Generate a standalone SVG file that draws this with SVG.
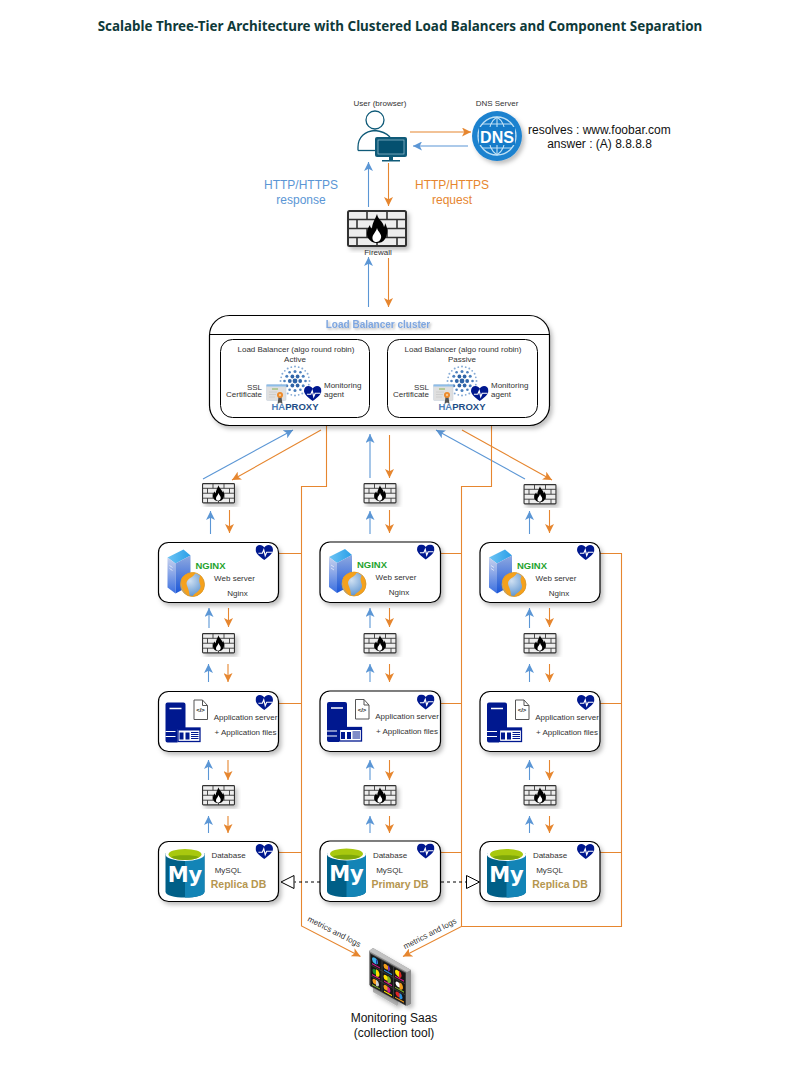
<svg xmlns="http://www.w3.org/2000/svg" xmlns:xlink="http://www.w3.org/1999/xlink" width="801" height="1071" viewBox="0 0 801 1071">
<style>
text{font-family:"Liberation Sans",Arial,sans-serif;fill:#333}
.m{text-anchor:middle}
.e{text-anchor:end}
.s8{font-size:8px}
.s12{font-size:12px}
.box{fill:#fff;stroke:#000;stroke-width:1.2}
.inner{fill:#fff;stroke:#000;stroke-width:1}
.b{fill:none;stroke:#5b96d5;stroke-width:1.1;marker-end:url(#ab)}
.o{fill:none;stroke:#e6862f;stroke-width:1.1;marker-end:url(#ao)}
.ol{fill:none;stroke:#e6862f;stroke-width:1.1}
.dash{fill:none;stroke:#000;stroke-width:1;stroke-dasharray:3 3;marker-end:url(#tri)}
.role{font-size:10.5px;font-weight:bold;fill:#b5964f}
.ha{font-size:9.5px;font-weight:bold;fill:#1d4d86}
.my{font-family:"DejaVu Sans",sans-serif;font-size:21px;font-weight:bold;fill:#fff}
.ngx{font-size:9px;font-weight:bold;fill:#1fa32e}
.code{font-size:6px;font-weight:bold;fill:#222}
.sh{filter:url(#shadow)}
</style>
<defs>
<filter id="shadow" x="-15%" y="-15%" width="135%" height="135%"><feDropShadow dx="2.5" dy="3" stdDeviation="2" flood-color="#000" flood-opacity=".25"/></filter>
<filter id="tshadow" x="-10%" y="-40%" width="120%" height="190%"><feDropShadow dx="1.5" dy="1.5" stdDeviation="1.2" flood-color="#000" flood-opacity=".3"/></filter>
<marker id="ab" viewBox="0 0 10 10" refX="10" refY="5" markerWidth="9" markerHeight="9" markerUnits="userSpaceOnUse" orient="auto"><path d="M10 5L0 0L2.5 5L0 10Z" fill="#5b96d5"/></marker>
<marker id="ao" viewBox="0 0 10 10" refX="10" refY="5" markerWidth="9" markerHeight="9" markerUnits="userSpaceOnUse" orient="auto"><path d="M10 5L0 0L2.5 5L0 10Z" fill="#e6862f"/></marker>
<marker id="tri" viewBox="0 0 14 14" refX="0" refY="7" markerWidth="14" markerHeight="14" markerUnits="userSpaceOnUse" orient="auto"><path d="M0.5 .5L13.5 7L0.5 13.5Z" fill="#fff" stroke="#000" stroke-width="1"/></marker>
<linearGradient id="tw" x1="0" y1="0" x2="0" y2="1"><stop offset="0" stop-color="#8fa9e0"/><stop offset="1" stop-color="#1a56d8"/></linearGradient>
<linearGradient id="tw2" x1="0" y1="0" x2="0" y2="1"><stop offset="0" stop-color="#c8d2ee"/><stop offset="1" stop-color="#3a6fe0"/></linearGradient>
<linearGradient id="twt" x1="0" y1="0" x2="1" y2="0"><stop offset="0" stop-color="#6cc4f4"/><stop offset="1" stop-color="#2a9fe8"/></linearGradient>
<radialGradient id="gl" cx=".4" cy=".35" r=".8"><stop offset="0" stop-color="#cfe0f2"/><stop offset=".7" stop-color="#6fa0d6"/><stop offset="1" stop-color="#3a70b0"/></radialGradient>
<symbol id="fw" viewBox="0 0 60 37" overflow="visible">
<rect x="1" y="1" width="58" height="35" rx="1.5" fill="#ededed" stroke="#333" stroke-width="2"/>
<path d="M1 9.500H59M1 18.500H59M1 27.500H59M20 1V9.500M40 1V9.500M10 9.500V18.500M30 9.500V18.500M50 9.500V18.500M20 18.500V27.500M40 18.500V27.500M10 27.500V36M30 27.500V36M50 27.500V36" fill="none" stroke="#333" stroke-width="1.600"/>
<path d="M30 4C31 10 36 11 37 17C38 15 38 14 38 13C41 18 41 24 38 29C36 32 33 33 30 33C26 33 23 31 21 28C19 24 20 19 23 15C23 17 24 18 25 19C25 13 28 10 30 4Z" fill="#000"/>
<path d="M30 18C31 22 35 24 34 28C33 31 31 32 29.500 32C27 32 25 30 25.500 27C26 24 29 22 30 18Z" fill="#fff"/>
</symbol>
<symbol id="heart" viewBox="0 0 18 16"><path d="M9 15.500C3 11 0 8 0 4.800C0 2 2 0 4.600 0C6.400 0 8 1 9 2.600C10 1 11.600 0 13.400 0C16 0 18 2 18 4.800C18 8 15 11 9 15.500Z" fill="#00188f"/><path d="M3 8.500H7L8.500 5L10 11L11.500 7.500H17" fill="none" stroke="#fff" stroke-width="1.200"/></symbol>
<symbol id="webicon" viewBox="0 0 50 56" overflow="visible">
<path d="M9 15L25 7L32 13L17 21Z" fill="url(#twt)"/>
<path d="M9 15L17 21V51L9 45Z" fill="url(#tw2)"/>
<path d="M17 21L32 13V43L17 51Z" fill="url(#tw)"/>
<path d="M11 23L14 25M11 26L14 28" stroke="#fff" stroke-width=".6"/>
<circle cx="34" cy="42" r="12" fill="url(#gl)"/>
<path d="M23 36C26 31 31 30 37 30C36 34 31 35 29 38C26 42 31 45 31 53.500C26 52 21 44 23 36ZM42 33C46 37 47 44 44 49C41 52 37 54 34 54C36 50 42 49 42 44C42 41 39 38 42 33Z" fill="#f5a11c"/>
<circle cx="34" cy="42" r="12" fill="none" stroke="#ef9a12" stroke-width=".8"/>
</symbol>
<symbol id="appicon" viewBox="0 0 50 56" overflow="visible">
<path d="M9 11H25Q27 11 27 13V38H19V51H9Q7 51 7 49V13Q7 11 9 11Z" fill="#00188f"/>
<path d="M11 17H23" stroke="#fff" stroke-width="1.500"/>
<path d="M7 40H17M7 45H17" stroke="#fff" stroke-width="1.200"/>
<rect x="19.500" y="36.500" width="22" height="13.500" fill="#fff" stroke="#00188f" stroke-width="1.300"/>
<rect x="19.500" y="36.500" width="22" height="2.500" fill="#00188f"/>
<path d="M21 41H25V48H21ZM27 41H31V48H27Z" fill="#00188f"/>
<path d="M32.500 41H40M32.500 43H40M32.500 45H40M32.500 47H40" stroke="#00188f" stroke-width="1"/>
<path d="M35.500 8.500H44L49 14V28H35.500Z" fill="#fff" stroke="#555" stroke-width="1"/>
<path d="M44 8.500V14H49" fill="none" stroke="#555" stroke-width="1"/>
</symbol>
<symbol id="dbicon" viewBox="0 0 50 56" overflow="visible">
<path d="M7 12V50C7 54 16 56 26.500 56C37 56 46 54 46 50V12Z" fill="#005f87"/>
<path d="M26.500 14V56C37 56 46 54 46 50V12Z" fill="#1384b6"/>
<ellipse cx="26.500" cy="13" rx="19.500" ry="6.500" fill="#fff"/>
<ellipse cx="26.500" cy="13" rx="16.500" ry="5.500" fill="#a8c80f"/>
<path d="M12.500 15.500C16 13 37 13 40.500 15.500C36 19.500 17 19.500 12.500 15.500Z" fill="#7ea70a"/>
</symbol>
<symbol id="ha" viewBox="0 0 36 36" overflow="visible">
<g fill="#2e64a8"><circle cx="18" cy="18" r="2.400"/><circle cx="12.800" cy="18" r="1.900"/><circle cx="23.200" cy="18" r="1.900"/><circle cx="15.400" cy="13.500" r="1.900"/><circle cx="20.600" cy="13.500" r="1.900"/><circle cx="15.400" cy="22.500" r="1.900"/><circle cx="20.600" cy="22.500" r="1.900"/></g>
<g fill="#4c80bd"><circle cx="18" cy="8.500" r="1.500"/><circle cx="18" cy="27.500" r="1.500"/><circle cx="9.800" cy="13.200" r="1.500"/><circle cx="26.200" cy="13.200" r="1.500"/><circle cx="9.800" cy="22.800" r="1.500"/><circle cx="26.200" cy="22.800" r="1.500"/><circle cx="12.600" cy="9.300" r="1.300"/><circle cx="23.400" cy="9.300" r="1.300"/><circle cx="12.600" cy="26.700" r="1.300"/><circle cx="23.400" cy="26.700" r="1.300"/><circle cx="7.500" cy="18" r="1.300"/><circle cx="28.500" cy="18" r="1.300"/></g>
<g fill="#86abd6"><circle cx="18" cy="3.500" r="1"/><circle cx="18" cy="32.500" r="1"/><circle cx="10.700" cy="5.500" r="1"/><circle cx="25.300" cy="5.500" r="1"/><circle cx="10.700" cy="30.500" r="1"/><circle cx="25.300" cy="30.500" r="1"/><circle cx="5.400" cy="10.700" r="1"/><circle cx="30.600" cy="10.700" r="1"/><circle cx="5.400" cy="25.300" r="1"/><circle cx="30.600" cy="25.300" r="1"/><circle cx="3.500" cy="18" r="1"/><circle cx="32.500" cy="18" r="1"/><circle cx="14.300" cy="4.200" r=".9"/><circle cx="21.700" cy="4.200" r=".9"/><circle cx="7.800" cy="7.800" r=".9"/><circle cx="28.200" cy="7.800" r=".9"/><circle cx="4.200" cy="14.300" r=".9"/><circle cx="31.800" cy="14.300" r=".9"/><circle cx="4.200" cy="21.700" r=".9"/><circle cx="31.800" cy="21.700" r=".9"/><circle cx="7.800" cy="28.200" r=".9"/><circle cx="28.200" cy="28.200" r=".9"/><circle cx="14.300" cy="31.800" r=".9"/><circle cx="21.700" cy="31.800" r=".9"/></g>
</symbol>
<symbol id="cert" viewBox="0 0 22 20" overflow="visible">
<rect x=".5" y=".5" width="19.500" height="16" rx="1" fill="#dfdfdf" stroke="#c9d3df" stroke-width=".6"/>
<rect x=".5" y=".5" width="19.500" height="2" fill="#8dbde9"/>
<path d="M3 8H11M3 10.500H10M3 13H9" stroke="#c9c9c9" stroke-width=".8"/>
<path d="M6 5H12" stroke="#9dbb74" stroke-width="1.300"/>
<path d="M12.500 13L11.500 20L14 18.500L16.500 20L15.500 13Z" fill="#555"/>
<circle cx="14" cy="11" r="3" fill="#ee8a2a"/><circle cx="14" cy="11" r="1.200" fill="#f5c992"/>
</symbol>
<g id="tile"><path d="M1 1H10V10H1Z" fill="#1b1b1b"/><path d="M1 9H10" stroke="currentColor" stroke-width="1.500"/></g>
</defs>
<rect width="801" height="1071" fill="#fff"/>

<text id="title" x="400" y="30.500" class="m" style="font-family:'Noto Sans','Open Sans',sans-serif;font-weight:700;font-size:13.400px;fill:#0f3a3a">Scalable Three-Tier Architecture with Clustered Load Balancers and Component Separation</text>

<g id="connectors">
<path class="o" d="M410 132H471"/><path class="b" d="M468 146H413"/>
<path class="b" d="M368.500 207V162"/><path class="o" d="M388.500 163V206"/>
<path class="b" d="M368.500 307V257"/><path class="o" d="M388.500 258V307"/>
<path class="b" d="M203 479L293 430"/><path class="o" d="M321 430L232 480"/>
<path class="b" d="M370 478V434"/><path class="o" d="M389.500 435V478"/>
<path class="b" d="M525 479L436 430"/><path class="o" d="M462 430L552 480"/>
<path class="b" d="M210.500 534V511"/><path class="o" d="M229.500 510V533"/>
<path class="b" d="M370 534V511"/><path class="o" d="M389.500 510V533"/>
<path class="b" d="M529.500 534V511"/><path class="o" d="M549.500 510V533"/>
<path class="b" d="M209 628V608"/><path class="o" d="M228.500 608V627"/>
<path class="b" d="M370 628V608"/><path class="o" d="M389.500 608V627"/>
<path class="b" d="M529.500 628V608"/><path class="o" d="M549.500 608V627"/>
<path class="b" d="M208.500 682V664"/><path class="o" d="M228 664V682"/>
<path class="b" d="M370 682V664"/><path class="o" d="M389.500 664V682"/>
<path class="b" d="M529.500 682V664"/><path class="o" d="M549.500 664V682"/>
<path class="b" d="M208.500 780V760"/><path class="o" d="M228 760V780"/>
<path class="b" d="M370 780V760"/><path class="o" d="M389.500 760V780"/>
<path class="b" d="M529.500 780V760"/><path class="o" d="M549.500 760V780"/>
<path class="b" d="M208.500 833V816"/><path class="o" d="M228 816V833"/>
<path class="b" d="M370 833V816"/><path class="o" d="M389.500 816V833"/>
<path class="b" d="M529.500 833V816"/><path class="o" d="M549.500 816V833"/>
<path class="o" d="M326.500 397V486.500H301.500V926L360.500 956.500"/>
<path class="ol" d="M274 553.500H301.500M274 703.500H301.500M274 852.500H301.500"/>
<path class="o" d="M491.500 397V486.500H461.500V926.500L403 956.500"/>
<path class="ol" d="M435 553.500H461.500M435 703.500H461.500M435 852.500H461.500"/>
<path class="ol" d="M596 553.500H621.500V926.500H461.500M596 703.500H621.500M596 852.500H621.500"/>
<path class="dash" d="M320 882H294.500"/>
<path class="dash" d="M441 882H466"/>
</g>

<g id="user"><text x="380" y="106" class="m s8">User (browser)</text>
<circle cx="375" cy="120" r="9" fill="#fff" stroke="#0f5a78" stroke-width="1.300"/>
<path d="M358 150.500V147C358 137 365 131 375 130.500C381 131 386 133 390 137" fill="none" stroke="#0f5a78" stroke-width="1.300"/>
<path d="M358 150.500H376" stroke="#0f5a78" stroke-width="1.300"/>
<rect x="375" y="137" width="32" height="20" rx="2" fill="#0f5a78"/><rect x="378" y="140" width="26" height="14" fill="#04506f" stroke="#9cc3d5" stroke-width=".7"/>
<path d="M389 157H393V160H400V161.500H382V160H389Z" fill="#0f5a78"/></g>

<g id="dns"><text x="497" y="106" class="m s8">DNS Server</text>
<circle cx="497" cy="136" r="25" fill="#1e82cf" class="sh"/>
<circle cx="497" cy="136" r="19" fill="#157bc9" stroke="#bfe0f5" stroke-width="1.300"/>
<path d="M478 136H516M482 124H512M482 148H512M497 117V155M497 117C486 124 486 148 497 155M497 117C508 124 508 148 497 155" fill="none" stroke="#bfe0f5" stroke-width="1.100"/>
<rect x="479" y="127" width="36" height="18" fill="#157bc9"/>
<text x="497" y="142.500" class="m" style="font-size:16px;font-weight:bold;fill:#fff">DNS</text></g>

<text x="528" y="133.500" class="s12" style="fill:#111">resolves : www.foobar.com</text>
<text x="599.500" y="148" class="m s12" style="fill:#111">answer : (A) 8.8.8.8</text>
<text x="301" y="189" class="m s12" style="fill:#5b96d5">HTTP/HTTPS</text>
<text x="301" y="203.500" class="m s12" style="fill:#5b96d5">response</text>
<text x="452" y="189" class="m s12" style="fill:#e6862f">HTTP/HTTPS</text>
<text x="452" y="203.500" class="m s12" style="fill:#e6862f">request</text>

<g id="firewall-top"><use href="#fw" x="347" y="210" width="60" height="37" class="sh"/><text x="378" y="255" class="m s8">Firewall</text></g>

<g id="lb-cluster">
<rect class="box sh" x="209.500" y="315.500" width="340" height="110" rx="20"/>
<path d="M209.500 334.500H549.500" stroke="#000" stroke-width="1"/>
<text x="378" y="328" class="m" style="font-size:10px;font-weight:bold;fill:#7ea6e0;filter:url(#tshadow)">Load Balancer cluster</text>
</g>
<g id="lb-active">
<rect class="inner" x="220.500" y="339.500" width="149" height="78" rx="12"/>
<text x="296" y="352" class="m s8">Load Balancer (algo round robin)</text>
<text x="295" y="362" class="m s8">Active</text>
<use href="#ha" x="277" y="363" width="36" height="36"/>
<use href="#cert" x="266" y="384" width="22" height="20"/>
<use href="#heart" x="304" y="386" width="17.500" height="15.500"/>
<text x="262" y="390" class="e s8">SSL</text><text x="262" y="397" class="e s8">Certificate</text>
<text x="324" y="388" class="s8">Monitoring</text><text x="324" y="396.500" class="s8">agent</text>
<text x="295" y="410" class="m ha"><tspan style="fill:#4b7db8">HA</tspan>PROXY</text>
</g>
<g id="lb-passive">
<rect class="inner" x="387.500" y="339.500" width="150" height="78" rx="12"/>
<text x="463" y="352" class="m s8">Load Balancer (algo round robin)</text>
<text x="462" y="362" class="m s8">Passive</text>
<use href="#ha" x="444" y="363" width="36" height="36"/>
<use href="#cert" x="433" y="384" width="22" height="20"/>
<use href="#heart" x="471" y="386" width="17.500" height="15.500"/>
<text x="429" y="390" class="e s8">SSL</text><text x="429" y="397" class="e s8">Certificate</text>
<text x="491" y="388" class="s8">Monitoring</text><text x="491" y="396.500" class="s8">agent</text>
<text x="462" y="410" class="m ha"><tspan style="fill:#4b7db8">HA</tspan>PROXY</text>
</g>

<g id="firewalls">
<use href="#fw" x="202" y="483" width="33" height="20.500" class="sh"/><use href="#fw" x="363.500" y="483" width="33" height="20.500" class="sh"/><use href="#fw" x="523.500" y="484" width="33" height="20.500" class="sh"/>
<use href="#fw" x="202" y="633" width="33" height="20.500" class="sh"/><use href="#fw" x="363.500" y="633" width="33" height="20.500" class="sh"/><use href="#fw" x="523.500" y="633" width="33" height="20.500" class="sh"/>
<use href="#fw" x="202" y="785" width="33" height="20.500" class="sh"/><use href="#fw" x="363.500" y="785" width="33" height="20.500" class="sh"/><use href="#fw" x="523.500" y="785" width="33" height="20.500" class="sh"/>
</g>

<g id="web-1" transform="translate(158.500 542.500)"><rect class="box sh" width="120" height="60" rx="10"/><use href="#webicon" width="50" height="56"/><text x="37" y="26" textLength="30" lengthAdjust="spacingAndGlyphs" class="ngx">NGINX</text><use href="#heart" x="97" y="2.500" width="17.500" height="15.500"/><text x="76" y="38" class="m s8">Web server</text><text x="79" y="53" class="m s8">Nginx</text></g>
<g id="web-2" transform="translate(320 542)"><rect class="box sh" width="120.500" height="60.500" rx="10"/><use href="#webicon" width="50" height="56"/><text x="37" y="26" textLength="30" lengthAdjust="spacingAndGlyphs" class="ngx">NGINX</text><use href="#heart" x="97" y="2.500" width="17.500" height="15.500"/><text x="76" y="38" class="m s8">Web server</text><text x="79" y="53" class="m s8">Nginx</text></g>
<g id="web-3" transform="translate(480 542.500)"><rect class="box sh" width="120" height="60" rx="10"/><use href="#webicon" width="50" height="56"/><text x="37" y="26" textLength="30" lengthAdjust="spacingAndGlyphs" class="ngx">NGINX</text><use href="#heart" x="97" y="2.500" width="17.500" height="15.500"/><text x="76" y="38" class="m s8">Web server</text><text x="79" y="53" class="m s8">Nginx</text></g>

<g id="app-1" transform="translate(158.500 691.500)"><rect class="box sh" width="120" height="60" rx="10"/><use href="#appicon" width="50" height="56"/><text x="42" y="20.500" class="m code">&lt;/&gt;</text><use href="#heart" x="97" y="3.500" width="17.500" height="15.500"/><text x="87" y="28" class="m s8">Application server</text><text x="87" y="43" class="m s8">+ Application files</text></g>
<g id="app-2" transform="translate(320 691)"><rect class="box sh" width="120.500" height="60.500" rx="10"/><use href="#appicon" width="50" height="56"/><text x="42" y="20.500" class="m code">&lt;/&gt;</text><use href="#heart" x="97" y="3.500" width="17.500" height="15.500"/><text x="87" y="28" class="m s8">Application server</text><text x="87" y="43" class="m s8">+ Application files</text></g>
<g id="app-3" transform="translate(480 691.500)"><rect class="box sh" width="120" height="60" rx="10"/><use href="#appicon" width="50" height="56"/><text x="42" y="20.500" class="m code">&lt;/&gt;</text><use href="#heart" x="97" y="3.500" width="17.500" height="15.500"/><text x="87" y="28" class="m s8">Application server</text><text x="87" y="43" class="m s8">+ Application files</text></g>

<g id="db-1" transform="translate(158.500 841.500)"><rect class="box sh" width="120" height="60" rx="10"/><use href="#dbicon" width="50" height="56"/><text x="26.500" y="40" class="m my">My</text><use href="#heart" x="97" y="2.500" width="17.500" height="15.500"/><text x="70" y="16.500" class="m s8">Database</text><text x="69.500" y="31.500" class="m s8">MySQL</text><text x="80" y="46.500" class="m role">Replica DB</text></g>
<g id="db-2" transform="translate(320 841)"><rect class="box sh" width="120.500" height="60.500" rx="10"/><use href="#dbicon" width="50" height="56"/><text x="26.500" y="40" class="m my">My</text><use href="#heart" x="97" y="2.500" width="17.500" height="15.500"/><text x="70" y="16.500" class="m s8">Database</text><text x="69.500" y="31.500" class="m s8">MySQL</text><text x="80" y="46.500" class="m role">Primary DB</text></g>
<g id="db-3" transform="translate(480 841.500)"><rect class="box sh" width="120" height="60" rx="10"/><use href="#dbicon" width="50" height="56"/><text x="26.500" y="40" class="m my">My</text><use href="#heart" x="97" y="2.500" width="17.500" height="15.500"/><text x="70" y="16.500" class="m s8">Database</text><text x="69.500" y="31.500" class="m s8">MySQL</text><text x="80" y="46.500" class="m role">Replica DB</text></g>

<g id="monitoring">
<text transform="translate(333 934) rotate(27)" class="m s8">metrics and logs</text>
<text transform="translate(431 936) rotate(-27)" class="m s8">metrics and logs</text>
<path d="M373 984L398 998V1005L397 1006L373 992Z" fill="#b5b5b5" class="sh"/>
<path d="M369 951L373 948L411 970V1004L407 1006L369 985Z" fill="#8c8c8c" class="sh"/>
<path d="M369 951L373 948L411 970L407 972Z" fill="#c2c2c2"/>
<g transform="matrix(1 .55 0 1 370 953)">
<rect width="36" height="33" fill="#3a3a3a"/>
<g fill="#161616"><rect x="1" y="1" width="10.500" height="10"/><rect x="12.500" y="1" width="10.500" height="10"/><rect x="24" y="1" width="11" height="10"/><rect x="1" y="12" width="10.500" height="10"/><rect x="12.500" y="12" width="10.500" height="10"/><rect x="24" y="12" width="11" height="10"/><rect x="1" y="23" width="10.500" height="9"/><rect x="12.500" y="23" width="10.500" height="9"/><rect x="24" y="23" width="11" height="9"/></g>
<circle cx="5" cy="5" r="3" fill="#3fb0e8"/><path d="M6 2.500A3.500 3.500 0 0 1 6 8Z" fill="#2233a8"/><path d="M2 9.500H10" stroke="#d6168f" stroke-width="1.200"/>
<circle cx="16" cy="5" r="2.500" fill="#f29b1a"/><path d="M18 2A3.500 3.500 0 0 1 18 8.500Z" fill="#6a2bb0"/><path d="M14 9.500H22" stroke="#2a8fe0" stroke-width="1.200"/>
<circle cx="28" cy="5" r="3" fill="#ffe000"/><path d="M29 1.500A4 4 0 0 1 29 9Z" fill="#e02525"/><path d="M25 9.500H34" stroke="#d6168f" stroke-width="1.200"/>
<circle cx="5" cy="16" r="2.500" fill="#1c8a2c"/><path d="M6 13A3.500 3.500 0 0 1 6 20Z" fill="#ffe000"/><path d="M2 20.500H10" stroke="#d6168f" stroke-width="1.200"/>
<circle cx="16" cy="16" r="2.500" fill="#ffe000"/><path d="M17.500 13A3.500 3.500 0 0 1 17.500 20Z" fill="#7db12b"/><path d="M14 20.500H22" stroke="#d6168f" stroke-width="1.200"/>
<circle cx="28" cy="16" r="2.500" fill="#fff"/><path d="M29.500 13A3.500 3.500 0 0 1 29.500 20Z" fill="#f29b1a"/><path d="M25 20.500H34" stroke="#7db12b" stroke-width="1.200"/>
<circle cx="5" cy="26" r="2.500" fill="#f29b1a"/><path d="M6 23.500A3 3 0 0 1 6 29.500Z" fill="#cfcfcf"/><path d="M2 30.500H10" stroke="#7db12b" stroke-width="1.200"/>
<circle cx="16" cy="26" r="2.500" fill="#f29b1a"/><path d="M17.500 23.500A3 3 0 0 1 17.500 29.500Z" fill="#d6168f"/><path d="M14 30.500H22" stroke="#ffe000" stroke-width="1.200"/>
<circle cx="28" cy="26" r="2.500" fill="#e02525"/><path d="M29.500 23.500A3 3 0 0 1 29.500 29.500Z" fill="#2a8fe0"/><path d="M25 30.500H34" stroke="#f29b1a" stroke-width="1.200"/>
</g>
<text x="394" y="1022" class="m s12" style="fill:#111">Monitoring Saas</text>
<text x="394" y="1037" class="m s12" style="fill:#111">(collection tool)</text>
</g>
</svg>
